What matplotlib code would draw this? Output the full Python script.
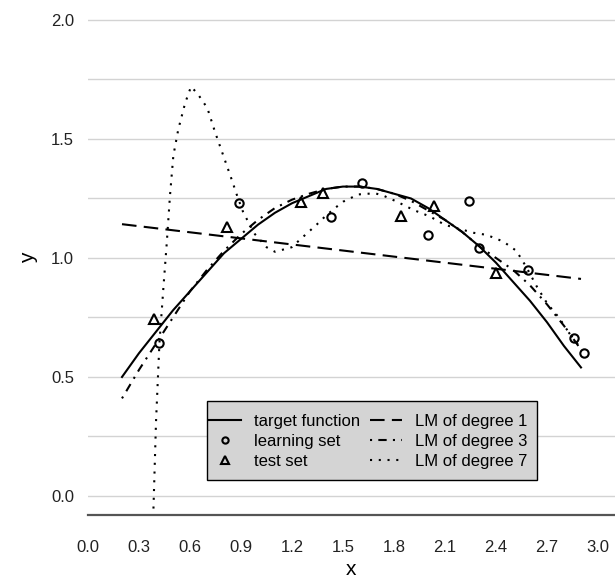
import matplotlib
matplotlib.use("Agg")
import matplotlib.pyplot as plt
from matplotlib.ticker import MultipleLocator, FormatStrFormatter
from matplotlib.lines import Line2D
from matplotlib.patches import Rectangle

plt.rcParams["font.family"] = ["Liberation Sans", "DejaVu Sans"]

# --- data ------------------------------------------------------------------
target_x = [0.2, 0.3, 0.4, 0.5, 0.6, 0.7, 0.8, 0.9, 1.0, 1.1, 1.2, 1.3, 1.4, 1.5,
            1.6, 1.7, 1.8, 1.9, 2.0, 2.1, 2.2, 2.3, 2.4, 2.5, 2.6, 2.7, 2.8, 2.9]
target_y = [0.50, 0.60, 0.69, 0.78, 0.86, 0.94, 1.02, 1.08, 1.14, 1.19, 1.23, 1.26,
            1.29, 1.30, 1.30, 1.29, 1.27, 1.25, 1.21, 1.16, 1.11, 1.05, 0.98, 0.90,
            0.82, 0.73, 0.63, 0.54]

learn_x = [0.419, 0.886, 1.429, 1.613, 2.000, 2.239, 2.300, 2.588, 2.857, 2.918]
learn_y = [0.644, 1.232, 1.172, 1.314, 1.097, 1.239, 1.043, 0.948, 0.665, 0.600]

test_x = [0.388, 0.816, 1.251, 1.384, 1.841, 2.034, 2.398]
test_y = [0.744, 1.129, 1.234, 1.274, 1.178, 1.218, 0.938]

lm1_x = [0.2, 2.9]
lm1_y = [1.142, 0.912]

lm3_x = [0.2, 0.3, 0.4, 0.5, 0.6, 0.7, 0.8, 0.9, 1.0, 1.1, 1.2, 1.3, 1.4, 1.5,
         1.6, 1.7, 1.8, 1.9, 2.0, 2.1, 2.2, 2.3, 2.4, 2.5, 2.6, 2.7, 2.8, 2.9]
lm3_y = [0.41, 0.53, 0.64, 0.75, 0.86, 0.95, 1.03, 1.10, 1.16, 1.21, 1.245, 1.27,
         1.29, 1.30, 1.30, 1.29, 1.27, 1.24, 1.20, 1.16, 1.11, 1.05, 1.00, 0.95,
         0.885, 0.805, 0.715, 0.615]

lm7_x = [0.379, 0.40, 0.42, 0.443, 0.463, 0.482, 0.502, 0.531, 0.571, 0.606, 0.645,
         0.702, 0.747, 0.796, 0.845, 0.878, 0.914, 0.982, 1.051, 1.10, 1.198, 1.267,
         1.345, 1.394, 1.453, 1.502, 1.59, 1.688, 1.737, 1.816, 1.914, 2.012, 2.10,
         2.267, 2.345, 2.443, 2.52, 2.58, 2.64, 2.70, 2.77, 2.83, 2.90]
lm7_y = [-0.20, 0.31, 0.64, 0.87, 1.06, 1.26, 1.43, 1.54, 1.65, 1.72, 1.69,
         1.63, 1.53, 1.43, 1.33, 1.26, 1.19, 1.10, 1.045, 1.026, 1.045, 1.09,
         1.14, 1.174, 1.21, 1.237, 1.267, 1.272, 1.262, 1.237, 1.202, 1.174, 1.139,
         1.106, 1.097, 1.069, 1.03, 0.96, 0.88, 0.81, 0.75, 0.685, 0.62]

labels = ["target function", "learning set", "test set",
          "LM of degree 1", "LM of degree 3", "LM of degree 7"]

# --- figure -----------------------------------------------------------------
W, H = 615, 585
AX_L, AX_B = 88, 515          # axes left / bottom edge in pixels
AX_W, AX_H = W - AX_L, AX_B

fig = plt.figure(figsize=(W / 100, H / 100), dpi=100, facecolor="white")
ax = fig.add_axes([AX_L / W, 1 - AX_B / H, AX_W / W, AX_H / H])

def px2ax(px, py):
    return (px - AX_L) / AX_W, (AX_B - py) / AX_H

LW = 1.5
DASH = (0, (7, 3.5))
DOTDASH = (0, (1, 3, 4, 3))
DOT = (0, (1, 3.2))

ax.plot(target_x, target_y, color="black", lw=LW, zorder=3)
ax.plot(lm1_x, lm1_y, color="black", lw=LW, ls=DASH, zorder=3)
ax.plot(lm3_x, lm3_y, color="black", lw=LW, ls=DOTDASH, zorder=3)
ax.plot(lm7_x, lm7_y, color="black", lw=LW, ls=DOT, zorder=3)
ax.plot(learn_x, learn_y, ls="none", marker="o", ms=6, mfc="none",
        mec="black", mew=1.5, zorder=4)
ax.plot(test_x, test_y, ls="none", marker="^", ms=7, mfc="none",
        mec="black", mew=1.5, zorder=4)

ax.set_xlim(0, 3.1)
ax.set_ylim(-0.08, 2.084)
ax.xaxis.set_major_locator(MultipleLocator(0.3))
ax.xaxis.set_major_formatter(FormatStrFormatter("%.1f"))
ax.yaxis.set_major_locator(MultipleLocator(0.5))
ax.yaxis.set_minor_locator(MultipleLocator(0.25))
ax.yaxis.set_major_formatter(FormatStrFormatter("%.1f"))

ax.grid(axis="y", which="both", color="#d3d3d3", lw=1.0, zorder=0)
ax.grid(axis="x", visible=False)
ax.set_axisbelow(True)
for s in ["top", "right", "left"]:
    ax.spines[s].set_visible(False)
ax.spines["bottom"].set_color("#555555")
ax.spines["bottom"].set_linewidth(1.6)

ax.tick_params(axis="both", which="both", length=0, labelsize=12,
               labelcolor="#222222")
ax.tick_params(axis="x", pad=18)
ax.tick_params(axis="y", pad=10)

ax.set_xlabel("x", fontsize=15)
ax.set_ylabel("y", fontsize=15)
ax.xaxis.set_label_coords(0.5, px2ax(0, 560)[1])
ax.yaxis.set_label_coords(px2ax(38, 0)[0], 0.5)

# legend: grey box drawn as a patch, entries placed inside it
x0, y0 = px2ax(206.7, 480)
x1, y1 = px2ax(536.7, 400.7)
ax.add_patch(Rectangle((x0, y0), x1 - x0, y1 - y0, transform=ax.transAxes,
                       facecolor="#d4d4d4", edgecolor="black", lw=1.0, zorder=5))

handles = [
    Line2D([], [], color="black", lw=LW),
    Line2D([], [], ls="none", marker="o", ms=6, mfc="none", mec="black", mew=1.5),
    Line2D([], [], ls="none", marker="^", ms=7, mfc="none", mec="black", mew=1.5),
    Line2D([], [], color="black", lw=LW, ls=DASH),
    Line2D([], [], color="black", lw=LW, ls=DOTDASH),
    Line2D([], [], color="black", lw=LW, ls=DOT),
]
leg = ax.legend(handles, labels, ncol=2, loc="center left",
                bbox_to_anchor=px2ax(209, 441.2),
                borderaxespad=0, borderpad=0, fontsize=12, frameon=False,
                handlelength=1.9, handletextpad=0.8, columnspacing=0.6,
                labelspacing=0.3, markerscale=0.75)
leg.set_zorder(6)

fig.savefig("out.png", dpi=100, facecolor="white")
